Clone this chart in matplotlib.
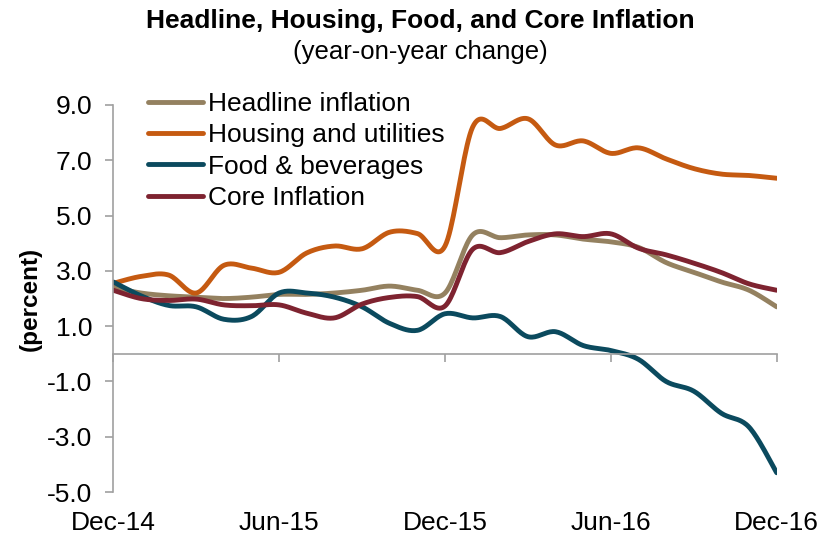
import numpy as np
import matplotlib
matplotlib.use("Agg")
import matplotlib.pyplot as plt

plt.rcParams['font.family'] = ['Liberation Sans', 'DejaVu Sans']

# monthly, Dec-14 .. Dec-16
months = np.arange(25)
tick_pos = [0, 6, 12, 18, 24]
tick_labels = ['Dec-14', 'Jun-15', 'Dec-15', 'Jun-16', 'Dec-16']

headline = [2.4, 2.2, 2.1, 2.05, 2.0, 2.05, 2.15, 2.15, 2.2, 2.3, 2.45, 2.3, 2.2,
            4.3, 4.2, 4.3, 4.3, 4.15, 4.05, 3.85, 3.3, 2.95, 2.6, 2.3, 1.7]
housing = [2.55, 2.8, 2.85, 2.2, 3.2, 3.1, 2.95, 3.65, 3.9, 3.8, 4.4, 4.35, 3.9,
           8.2, 8.15, 8.5, 7.55, 7.7, 7.25, 7.45, 7.05, 6.7, 6.5, 6.45, 6.35]
food = [2.6, 2.1, 1.75, 1.7, 1.25, 1.35, 2.2, 2.2, 2.05, 1.7, 1.1, 0.85, 1.45,
        1.3, 1.35, 0.62, 0.8, 0.3, 0.12, -0.2, -1.0, -1.35, -2.15, -2.65, -4.3]
core = [2.3, 2.0, 1.93, 1.98, 1.77, 1.74, 1.77, 1.47, 1.3, 1.8, 2.04, 2.07, 1.73,
        3.78, 3.66, 4.06, 4.34, 4.24, 4.34, 3.82, 3.58, 3.28, 2.94, 2.53, 2.3]

series = [
    ('Headline inflation', headline, '#948160'),
    ('Housing and utilities', housing, '#C55A11'),
    ('Food & beverages', food, '#0B4A5E'),
    ('Core Inflation', core, '#7E2330'),
]


def smooth(x, y, n=20):
    # excel-style smoothed line (catmull-rom through the points)
    x = np.asarray(x, float)
    y = np.asarray(y, float)
    px = np.concatenate([[x[0]], x, [x[-1]]])
    py = np.concatenate([[y[0]], y, [y[-1]]])
    t = np.linspace(0, 1, n, endpoint=False)[:, None]
    xs, ys = [], []
    for i in range(1, len(px) - 2):
        p0 = np.array([px[i], py[i]])
        p3 = np.array([px[i + 1], py[i + 1]])
        p1 = p0 + (p3 - np.array([px[i - 1], py[i - 1]])) / 6
        p2 = p3 - (np.array([px[i + 2], py[i + 2]]) - p0) / 6
        b = ((1 - t) ** 3) * p0 + 3 * ((1 - t) ** 2) * t * p1 + 3 * (1 - t) * t ** 2 * p2 + t ** 3 * p3
        xs.append(b[:, 0])
        ys.append(b[:, 1])
    xs.append([x[-1]])
    ys.append([y[-1]])
    return np.concatenate(xs), np.concatenate(ys)


fig = plt.figure(figsize=(8.3, 5.4), dpi=100)
ax = fig.add_axes([0.1365, 0.0887, 0.7993, 0.7169])

for name, vals, color in series:
    sx, sy = smooth(months, vals)
    ax.plot(sx, sy, color=color, lw=3.5, label=name, solid_capstyle='round')

ax.set_xlim(0, 24)
ax.set_ylim(-5, 9)
ax.set_yticks(np.arange(-5, 10, 2))
ax.set_yticklabels([f'{v:.1f}' for v in np.arange(-5, 10, 2)])
ax.set_xticks(tick_pos)
ax.tick_params(axis='x', labelbottom=False, length=6, width=1.2, color='#A0A0A0', direction='out')
ax.tick_params(axis='y', labelsize=19, length=6, width=1.2, color='#A0A0A0', pad=9)

for sp in ['top', 'right']:
    ax.spines[sp].set_visible(False)
ax.spines['bottom'].set_position(('data', 0))
for sp in ['left', 'bottom']:
    ax.spines[sp].set_color('#A0A0A0')
    ax.spines[sp].set_linewidth(1.2)

for p, lab in zip(tick_pos, tick_labels):
    ax.text(p, -0.05, lab, transform=ax.get_xaxis_transform(), ha='center', va='top', fontsize=19)

ax.set_ylabel('(percent)', fontsize=17.5, fontweight='bold', labelpad=4)

fig.text(0.506, 0.962, 'Headline, Housing, Food, and Core Inflation', ha='center', va='center',
         fontsize=19, fontweight='bold')
fig.text(0.506, 0.903, '(year-on-year change)', ha='center', va='center', fontsize=18.5)

ax.legend(loc='upper left', bbox_to_anchor=(0.178, 0.83), bbox_transform=fig.transFigure,
          frameon=False, fontsize=19, handlelength=2.1, handletextpad=0.2,
          labelspacing=0.28, borderpad=0, borderaxespad=0)

fig.savefig('out.png', dpi=100)
